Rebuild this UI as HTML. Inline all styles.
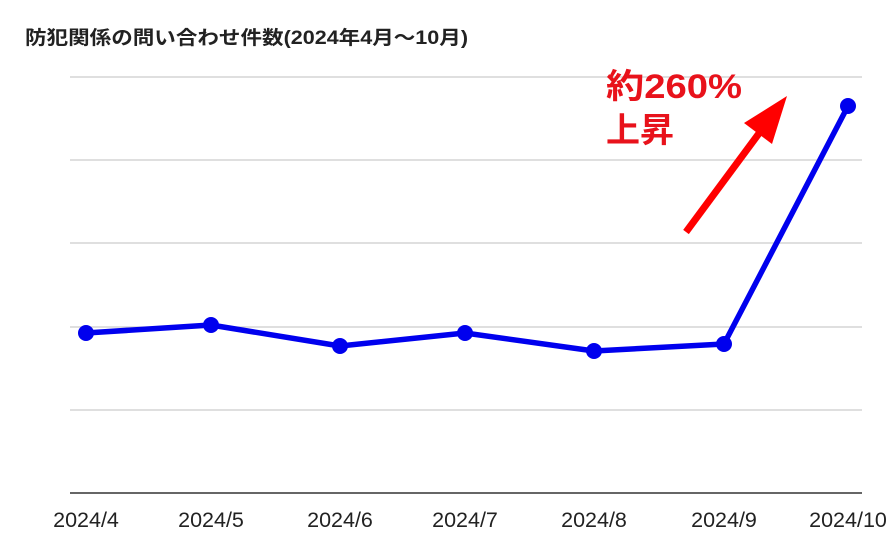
<!DOCTYPE html>
<html><head><meta charset="utf-8"><style>
html,body{margin:0;padding:0;background:#fff;width:891px;height:553px;overflow:hidden}
</style></head><body>
<svg width="891" height="553" xmlns="http://www.w3.org/2000/svg" font-family="Liberation Sans, Noto Sans CJK JP, sans-serif">
<text x="25" y="44" font-size="19" font-weight="bold" fill="#222" textLength="443" lengthAdjust="spacingAndGlyphs">防犯関係の問い合わせ件数(2024年4月～10月)</text>
<g stroke="#cccccc" stroke-width="1.3">
<line x1="70" y1="77" x2="862" y2="77"/>
<line x1="70" y1="160" x2="862" y2="160"/>
<line x1="70" y1="243" x2="862" y2="243"/>
<line x1="70" y1="327" x2="862" y2="327"/>
<line x1="70" y1="410" x2="862" y2="410"/>
</g>
<line x1="70" y1="493" x2="862" y2="493" stroke="#333" stroke-width="1.5"/>
<polyline points="86,333 211,325 340,346 465,333 594,351 724,344 848,106" fill="none" stroke="#0000ee" stroke-width="5.5" stroke-linejoin="round"/>
<g fill="#0000ee">
<circle cx="86" cy="333" r="8"/><circle cx="211" cy="325" r="8"/><circle cx="340" cy="346" r="8"/>
<circle cx="465" cy="333" r="8"/><circle cx="594" cy="351" r="8"/><circle cx="724" cy="344" r="8"/><circle cx="848" cy="106" r="8"/>
</g>
<line x1="686" y1="232" x2="760" y2="132" stroke="#ff0000" stroke-width="7"/>
<polygon points="787,96 772,144 744,123" fill="#ff0000"/>
<text x="606" y="98" font-size="34" font-weight="bold" fill="#e8121b" textLength="136" lengthAdjust="spacingAndGlyphs">約260%</text>
<text x="606" y="142" font-size="34" font-weight="bold" fill="#e8121b">上昇</text>
<g font-size="21.5" fill="#222" text-anchor="middle">
<text x="86" y="527">2024/4</text><text x="211" y="527">2024/5</text><text x="340" y="527">2024/6</text>
<text x="465" y="527">2024/7</text><text x="594" y="527">2024/8</text><text x="724" y="527">2024/9</text><text x="848" y="527">2024/10</text>
</g>
</svg>
</body></html>
